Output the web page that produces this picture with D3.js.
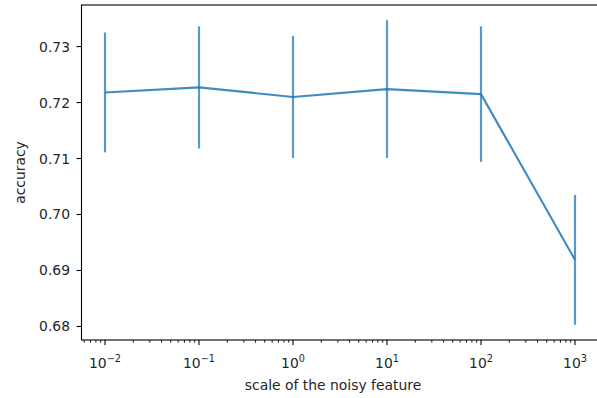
<!DOCTYPE html>
<html>
<head>
<meta charset="utf-8">
<script src="https://cdn.jsdelivr.net/npm/d3@7"></script>
<style>
html,body{margin:0;padding:0;background:#fff;overflow:hidden;}
svg{display:block;font-family:"DejaVu Sans",sans-serif;}
</style>
</head>
<body>
<svg id="chart" width="597" height="398"></svg>
<script>
// Data
const exponents = [-2, -1, 0, 1, 2, 3];
const scales = [0.01, 0.1, 1, 10, 100, 1000];
const meanAccuracy = [0.7218, 0.7227, 0.7210, 0.7224, 0.7215, 0.6919];
const stdAccuracy = [0.0107, 0.0109, 0.0109, 0.0123, 0.0121, 0.0116];
const yTicks = [0.68, 0.69, 0.70, 0.71, 0.72, 0.73];
const xLabel = "scale of the noisy feature";
const yLabel = "accuracy";

(function () {
const svg = d3.select("#chart");
const mLeft = 81.5, mRight = 598.5, mTop = 5, mBottom = 340;
const color = "#1f77b4";

// x log scale with 5% margin in log space
const lmin = Math.log10(d3.min(scales)), lmax = Math.log10(d3.max(scales));
const lm = (lmax - lmin) * 0.05;
const x = d3.scaleLog().domain([Math.pow(10, lmin - lm), Math.pow(10, lmax + lm)]).range([mLeft, mRight]);

const lows = meanAccuracy.map((m, i) => m - stdAccuracy[i]);
const highs = meanAccuracy.map((m, i) => m + stdAccuracy[i]);
const ymin = d3.min(lows), ymax = d3.max(highs);
const ym = (ymax - ymin) * 0.05;
const y = d3.scaleLinear().domain([ymin - ym, ymax + ym]).range([mBottom, mTop]);

const g = svg.append("g");

// error bars
g.selectAll("line.err").data(scales).join("line")
  .attr("class", "err")
  .attr("x1", d => x(d)).attr("x2", d => x(d))
  .attr("y1", (d, i) => y(lows[i])).attr("y2", (d, i) => y(highs[i]))
  .attr("stroke", color).attr("stroke-width", 2.2).attr("stroke-opacity", 0.75);

// line
const line = d3.line().x((d, i) => x(scales[i])).y(d => y(d));
g.append("path").datum(meanAccuracy).attr("d", line)
  .attr("fill", "none").attr("stroke", color).attr("stroke-width", 2.1)
  .attr("stroke-opacity", 0.85).attr("stroke-linejoin", "round");

// spines
svg.append("rect").attr("x", mLeft).attr("y", mTop).attr("width", mRight - mLeft).attr("height", mBottom - mTop)
  .attr("fill", "none").attr("stroke", "#000").attr("stroke-width", 1.1);

// y ticks
const yt = svg.append("g");
yTicks.forEach(t => {
  yt.append("line").attr("x1", mLeft - 4.9).attr("x2", mLeft).attr("y1", y(t)).attr("y2", y(t))
    .attr("stroke", "#000").attr("stroke-width", 1.1);
  yt.append("text").attr("x", mLeft - 11.5).attr("y", y(t)).attr("dy", "0.36em")
    .attr("text-anchor", "end").attr("font-size", 13.9).attr("fill", "#262626").text(d3.format(".2f")(t));
});

// x major ticks
const xt = svg.append("g");
exponents.forEach((e, i) => {
  const px = x(scales[i]);
  xt.append("line").attr("x1", px).attr("x2", px).attr("y1", mBottom).attr("y2", mBottom + 4.9)
    .attr("stroke", "#000").attr("stroke-width", 1.1);
  const t = xt.append("text").attr("x", px).attr("y", mBottom + 28)
    .attr("text-anchor", "middle").attr("font-size", 13.9).attr("fill", "#262626");
  t.append("tspan").text("10");
  t.append("tspan").attr("dy", -6).attr("font-size", 9.7).text(e < 0 ? "\u2212" + Math.abs(e) : String(e));
});
// x minor ticks
const [d0, d1] = x.domain();
for (let k = -3; k <= 3; k++) {
  for (let m = 2; m <= 9; m++) {
    const v = m * Math.pow(10, k);
    if (v < d0 || v > d1) continue;
    xt.append("line").attr("x1", x(v)).attr("x2", x(v)).attr("y1", mBottom).attr("y2", mBottom + 2.8)
      .attr("stroke", "#000").attr("stroke-width", 0.85);
  }
}

// axis labels
svg.append("text").attr("x", (mLeft + mRight) / 2 - 7).attr("y", 390).attr("text-anchor", "middle")
  .attr("font-size", 13.9).attr("fill", "#262626").text(xLabel);
svg.append("text").attr("transform", `translate(25,${(mTop + mBottom) / 2}) rotate(-90)`)
  .attr("text-anchor", "middle").attr("font-size", 13.9).attr("fill", "#262626").text(yLabel);
})();
</script>
</body>
</html>
